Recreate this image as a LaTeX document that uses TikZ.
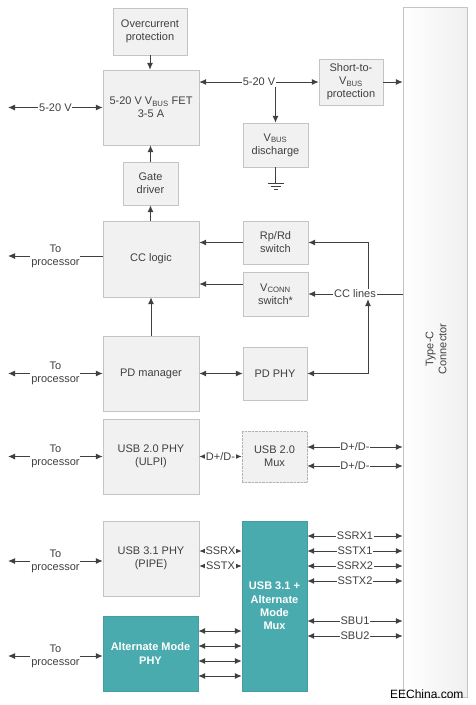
\documentclass[tikz,border=0pt]{standalone}
\usepackage{fontspec}
\setmainfont{Liberation Sans}
\usepackage{tikz}
\usetikzlibrary{arrows.meta}
\usetikzlibrary{calc}
\usetikzlibrary{shadows}

\definecolor{txt}{HTML}{404040}
\definecolor{tealbox}{HTML}{4AABAF}
\definecolor{bord}{HTML}{C4C4C4}
\definecolor{boxf}{HTML}{F1F1F1}

\begin{document}
\begin{tikzpicture}[x=1pt,y=-1pt,>/.tip={Latex[length=7pt,width=6pt]},
	every node/.style={font=\fontsize{11}{13}\selectfont,text=txt},
	sz/.style 2 args={minimum width=#1pt,minimum height=#2pt},
	blk/.style={draw=bord,fill=boxf,align=center,inner sep=2pt,
		drop shadow={opacity=0.18,shadow xshift=1pt,shadow yshift=-1pt}},
	tblk/.style={fill=tealbox,draw=tealbox!92!black,align=center,inner sep=2pt,
		text=white,font=\fontsize{11}{13.3}\selectfont\bfseries},
	lbl/.style={fill=white,inner sep=0.8pt,align=center},
	wire/.style={draw=txt,line width=1pt}]
\useasboundingbox (0,0) rectangle (476,705);

% connector
\draw (435,352) node[draw=bord,left color=white,right color=gray!12,sz={64}{690}] (conn) {};
\draw (436,349) node[rotate=90,align=center] (ctxt) {Type-C\\Connector};

% power path
\draw (150,31.5) node[blk,sz={74}{47}] (over) {Overcurrent\\protection};
\draw (151,107.5) node[blk,sz={96}{75}] (fet) {5-20 V V\textsubscript{BUS} FET\\3-5 A};
\draw (150.5,183.5) node[blk,sz={55}{43}] (gate) {Gate\\driver};
\draw (275.5,145) node[blk,sz={65}{44}] (dis) {V\textsubscript{BUS}\\discharge};
\draw (351,82) node[blk,sz={64}{46}] (short) {Short-to-\\V\textsubscript{BUS}\\protection};

% CC and PD
\draw (151,259) node[blk,sz={96}{76}] (cc) {CC logic};
\draw (275.5,242.5) node[blk,sz={65}{43}] (rprd) {Rp/Rd\\switch};
\draw (275.5,294) node[blk,sz={65}{44}] (vconn) {V\textsubscript{CONN}\\switch*};
\draw (151,373.5) node[blk,sz={96}{75}] (pdm) {PD manager};
\draw (275,373.5) node[blk,sz={64}{53}] (pdphy) {PD PHY};

% USB
\draw (151,456.5) node[blk,sz={96}{75}] (u2phy) {USB 2.0 PHY\\(ULPI)};
\draw (274.5,456.5) node[blk,densely dotted,draw=gray!60,sz={65}{51}] (u2mux) {USB 2.0\\Mux};
\draw (151,558.5) node[blk,sz={96}{75}] (u3phy) {USB 3.1 PHY\\(PIPE)};
\draw (274.5,606) node[tblk,sz={65}{170}] (u3mux) {USB 3.1 +\\Alternate\\Mode\\Mux};
\draw (150.5,653.5) node[tblk,sz={95}{75}] (altphy) {Alternate Mode\\PHY};

% left side
\foreach \n/\y in {l1/107.5,l2/256,l3/373.5,l4/456.5,l5/561,l6/656}
	\coordinate (\n) at (8,\y);
\draw[wire,<->] (l1) -- node[lbl] {5-20 V} (l1 -| fet.west);
\draw[wire,->] (l2 -| cc.west) -- node[lbl] {To\\processor} (l2);
\foreach \n/\b in {l3/pdm,l4/u2phy,l5/u3phy,l6/altphy}
	\draw[wire,<->] (\n) -- node[lbl] {To\\processor} (\n -| \b.west);

% power connectors
\coordinate (vj) at (dis.north |- short.west);
\draw[wire,->] (vj) -- (dis.north);
\draw[wire,<->] (fet.east |- short.west) -- node[lbl] {5-20 V} (short.west);
\draw[wire,->] (short.east) -- (short.east -| conn.west);
\draw[wire,->] (over.south) -- (over.south |- fet.north);
\draw[wire,->] (gate.north) -- (gate.north |- fet.south);
\draw[wire,->] (gate.south |- cc.north) -- (gate.south);
\coordinate (gnd) at ([yshift=-16pt]dis.south);
\draw[wire] (dis.south) -- (gnd);
\foreach \w/\d in {8/0,5/3,2/6}
	\draw[wire] ([xshift=-\w pt,yshift=-\d pt]gnd) -- ([xshift=\w pt,yshift=-\d pt]gnd);

% CC lines
\draw[wire,->] (rprd.west) -- (rprd.west -| cc.east);
\draw[wire,->] ([yshift=10pt]vconn.west) -- ([yshift=10pt]vconn.west -| cc.east);
\draw[wire,->] (pdm.north) -- (pdm.north |- cc.south);
\draw[wire,<->] (pdm.east) -- (pdphy.west);
\draw (355,294) node[lbl] (ccl) {CC lines};
\coordinate (ccj) at (368,294);
\draw[wire] (conn.west |- ccl) -- (ccl.east);
\draw[wire,->] (ccl.west) -- (ccl.west -| vconn.east);
\draw[wire,->] (ccj |- ccl.north) |- (rprd.east);
\draw[wire,<->] (pdphy.east) -| (ccj |- ccl.south);

% data lines
\draw[wire,<->] (u2phy.east) -- node[lbl] {D+/D-} (u2mux.west);
\foreach \s in {9.5,-9.5}
	\draw[wire,<->] ([yshift=\s pt]u2mux.east) -- node[lbl] {D+/D-} ([yshift=\s pt]u2mux.east -| conn.west);
\foreach \s/\t in {7.5/SSRX,-7.5/SSTX}
	\draw[wire,<->] ([yshift=\s pt]u3phy.east) -- node[lbl] {\t} ([yshift=\s pt]u3phy.east -| u3mux.west);
\foreach \t/\y in {SSRX1/536,SSTX1/551,SSRX2/566,SSTX2/581,SBU1/621,SBU2/636}
	\draw[wire,<->] (u3mux.east |- 0,\y) -- node[lbl] {\t} (conn.west |- 0,\y);
\foreach \y in {631,646,661,676}
	\draw[wire,<->] (altphy.east |- 0,\y) -- (u3mux.west |- 0,\y);

\draw (467,694) node[anchor=east,text=black,font=\fontsize{12}{14}\selectfont] (wm) {EEChina.com};
\end{tikzpicture}
\end{document}
